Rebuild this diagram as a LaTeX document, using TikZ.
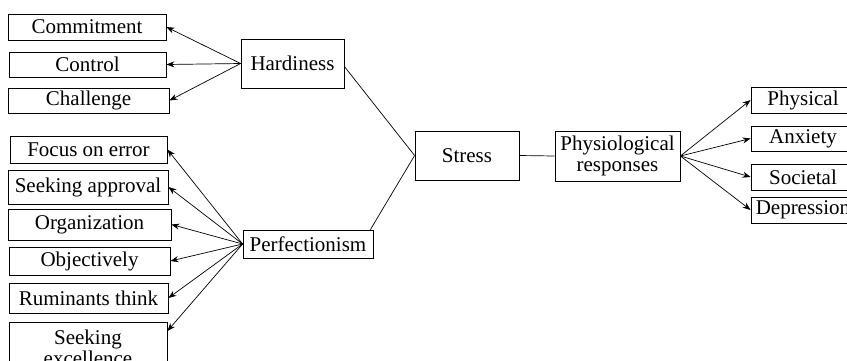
\documentclass[tikz,border=0pt]{standalone}
\usepackage{fontspec}
\setmainfont{Liberation Serif}
\usetikzlibrary{arrows.meta,calc}
\tikzset{
  box/.style={draw, line width=0.8pt, inner sep=0pt, align=center,
    font=\fontsize{21}{21}\selectfont},
  arr/.style={-{Stealth[length=8pt,width=6pt]}, line width=0.7pt},
  lnk/.style={line width=0.7pt}
}
\begin{document}
\begin{tikzpicture}[x=1pt,y=-1pt]
\useasboundingbox (0,0) rectangle (847,360);
\clip (0,0) rectangle (847,360);
% left upper group
\node[box, minimum width=158pt, minimum height=26pt] (com) at (87,27) {Commitment};
\node[box, minimum width=157pt, minimum height=25pt] (con) at (87.5,64.5) {Control};
\node[box, minimum width=161pt, minimum height=25pt] (cha) at (88.5,100.5) {Challenge};
\node[box, minimum width=103pt, minimum height=49pt] (har) at (292.5,63.5) {Hardiness};
% left lower group
\node[box, minimum width=157pt, minimum height=27pt] (foc) at (88.5,149.5) {Focus on error};
\node[box, minimum width=160pt, minimum height=34pt] (see) at (88,187) {Seeking approval};
\node[box, minimum width=163pt, minimum height=31pt] (org) at (89.5,224.5) {Organization};
\node[box, minimum width=161pt, minimum height=28pt] (obj) at (89.5,261) {Objectively};
\node[box, minimum width=159pt, minimum height=30pt] (rum) at (88.5,298) {Ruminants think};
\node[box, minimum width=158pt, minimum height=50pt, anchor=north, inner sep=0pt] (exc) at (88,322) {Seeking\\ excellence};
\node[box, minimum width=130pt, minimum height=28pt] (per) at (308,244) {Perfectionism};
% centre
\node[box, minimum width=104pt, minimum height=49pt] (str) at (467,155.5) {Stress};
\node[box, minimum width=125pt, minimum height=50pt] (phy) at (617.5,156) {Physiological\\ responses};
% right group
\node[box, minimum width=104pt, minimum height=26pt] (pys) at (803,100) {Physical};
\node[box, minimum width=104pt, minimum height=25pt] (anx) at (803,138.5) {Anxiety};
\node[box, minimum width=104pt, minimum height=26pt] (soc) at (803,177) {Societal};
\node[box, minimum width=104pt, minimum height=26pt] (dep) at (803,210) {Depression};
% connectors
\coordinate (hs) at (har.west);
\draw[arr] (hs) -- (com.east);
\draw[arr] (hs) -- (con.east);
\draw[arr] (hs) -- (cha.east);
\coordinate (ps) at (per.west);
\foreach \t in {foc,see,org,obj,rum} \draw[arr] (ps) -- (\t.east);
\draw[arr] (ps) -- ($(exc.north east)+(0,9)$);
\draw[lnk] ($(har.east)+(0,3)$) -- (str.west);
\draw[lnk] ($(per.north east)+(-3,0)$) -- (str.west);
\draw[lnk] (str.east) -- (phy.west);
\coordinate (rs) at (phy.east);
\foreach \t in {pys,anx,soc,dep} \draw[arr] (rs) -- (\t.west);
\end{tikzpicture}
\end{document}
